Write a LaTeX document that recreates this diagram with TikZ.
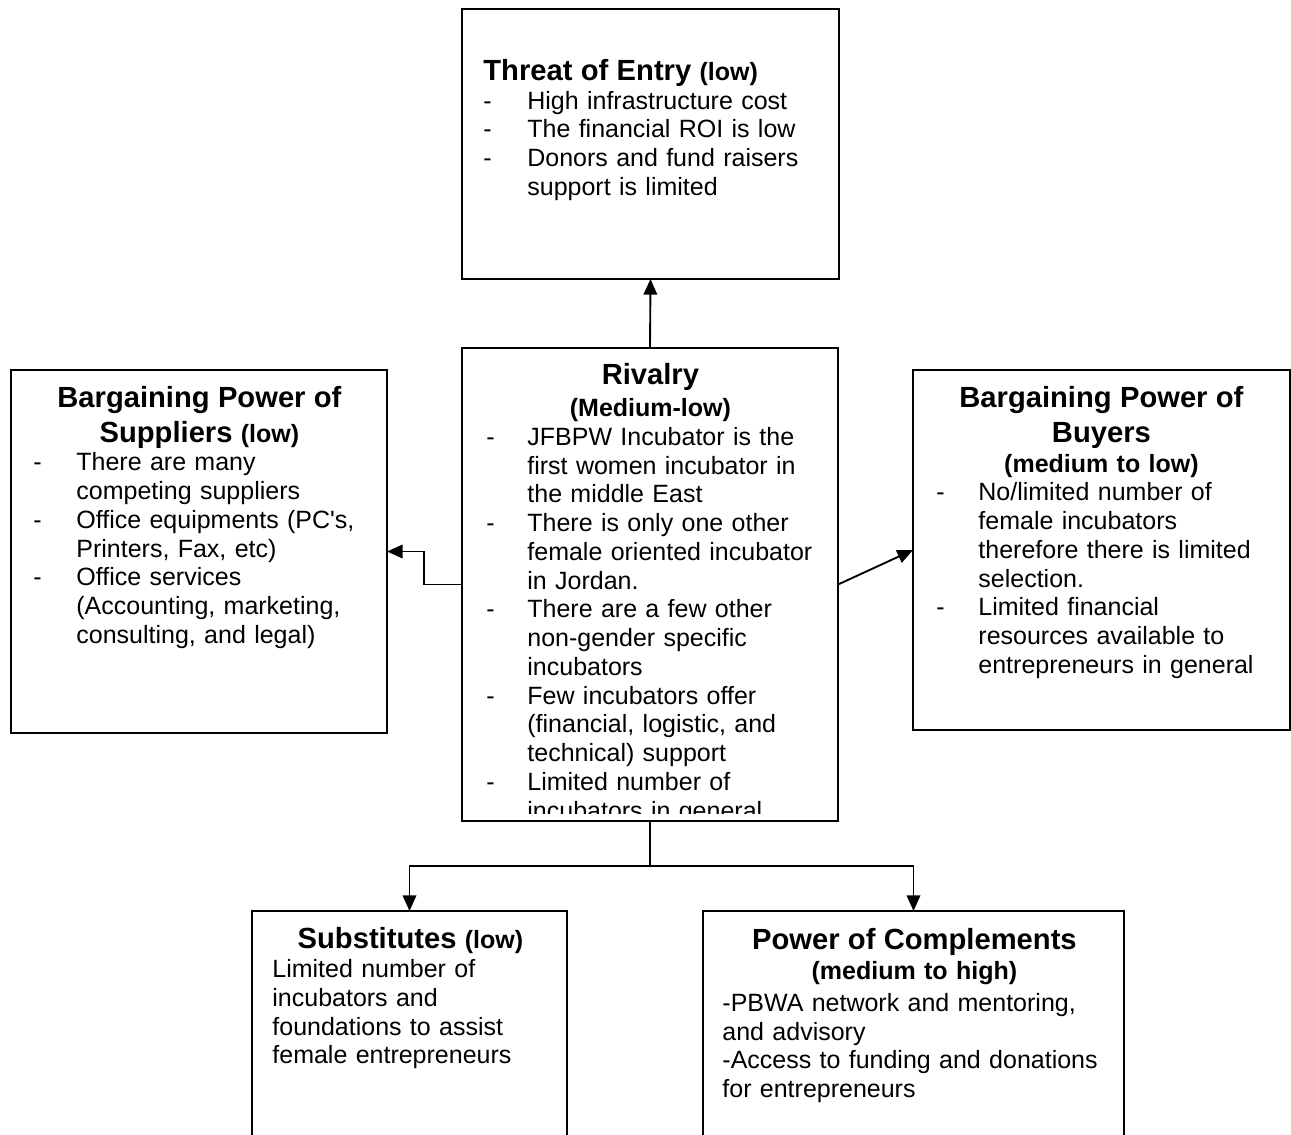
\documentclass[tikz,border=0pt]{standalone}
\usepackage{fontspec}
\setmainfont{Liberation Sans}
\usetikzlibrary{arrows.meta}
\setlength{\parindent}{0pt}
\setlength{\parskip}{0pt}
\newcommand{\hd}{\fontsize{14}{16.8}\selectfont\bfseries}
\newcommand{\sbf}{\fontsize{12}{14.4}\selectfont\bfseries}
\newcommand{\bd}{\fontsize{12}{13.8}\selectfont}
\newcommand{\topline}{\rule{0pt}{11pt}}
\newlength{\dashind}
\newcommand{\dashitem}[1]{\par\hangindent=\dashind\hangafter=1\noindent\makebox[\dashind][l]{-}#1}

\begin{document}
\begin{tikzpicture}[x=0.48pt, y=-0.48pt,
  box/.style={draw, line width=0.9pt, inner sep=0pt, outer sep=0pt, anchor=north west},
  txt/.style={inner sep=0pt, anchor=north west, font=\bd},
  conn/.style={line width=0.9pt, -{Triangle[length=7.5pt, width=6.5pt]}}]
\useasboundingbox (0, 0) rectangle (1291, 1135);
\clip (0, 0) rectangle (1291, 1135);
% the boxes
\node[box, minimum width=180.96pt, minimum height=129.6pt] (entry) at (462, 9) {};
\node[box, minimum width=180.48pt, minimum height=227.04pt] (rivalry) at (462, 348) {};
\node[box, minimum width=180.48pt, minimum height=174.24pt] (suppliers) at (11, 370) {};
\node[box, minimum width=180.96pt, minimum height=172.8pt] (buyers) at (913, 370) {};
\node[box, minimum width=151.2pt, minimum height=144pt] (subst) at (252, 911) {};
\node[box, minimum width=202.08pt, minimum height=144pt] (compl) at (703, 911) {};
% threat of entry
\node[txt, text width=163.2pt] (entrytext) at (483, 57.1) {\setlength{\dashind}{21.1pt}%
  \raggedright{\hd\topline Threat of Entry {\sbf (low)}\par}
  \dashitem{High infrastructure cost}
  \dashitem{The financial ROI is low}
  \dashitem{Donors and fund raisers\newline support is limited}\par};
% rivalry
\begin{scope}
\clip (462, 348) rectangle (838, 813);
\node[txt, text width=157.44pt] (rivalrytext) at (486, 361.1) {\setlength{\dashind}{19.68pt}%
  {\centering\hd\topline Rivalry\par}
  \vspace{1pt}
  {\centering\sbf (Medium-low)\par}
  \raggedright
  \dashitem{JFBPW Incubator is the\newline first women incubator in\newline the middle East}
  \dashitem{There is only one other\newline female oriented incubator\newline in Jordan.}
  \dashitem{There are a few other\newline non-gender specific\newline incubators}
  \dashitem{Few incubators offer\newline (financial, logistic, and\newline technical) support}
  \dashitem{Limited number of\newline incubators in general}\par};
\end{scope}
% suppliers
\node[txt, text width=159.36pt] (supplierstext) at (33, 383.8) {\setlength{\dashind}{20.64pt}%
  {\centering\hd\topline Bargaining Power of\\Suppliers {\sbf (low)}\par}
  \raggedright
  \dashitem{There are many\newline competing suppliers}
  \dashitem{Office equipments (PC\textquotesingle s,\newline Printers, Fax, etc)}
  \dashitem{Office services\newline (Accounting, marketing,\newline consulting, and legal)}\par};
% buyers
\node[txt, text width=158.4pt] (buyerstext) at (936, 383.8) {\setlength{\dashind}{20.16pt}%
  {\centering\hd\topline Bargaining Power of\\Buyers\par}
  {\centering\sbf (medium to low)\par}
  \raggedright
  \dashitem{No/limited number of\newline female incubators\newline therefore there is limited\newline selection.}
  \dashitem{Limited financial\newline resources available to\newline entrepreneurs in general}\par};
% substitutes
\node[txt, text width=132.48pt] (substtext) at (272, 925.6) {%
  {\centering\hd\topline Substitutes {\sbf (low)}\par}
  \raggedright
  Limited number of\newline incubators and\newline foundations to assist\newline female entrepreneurs\par};
% complements
\node[txt, text width=184.32pt] (compltext) at (722, 926.1) {%
  {\centering\hd\topline Power of Complements\par}
  {\centering\sbf (medium to high)\par}
  \vspace{1.5pt}
  \raggedright
  -PBWA network and mentoring,\newline and advisory\newline
  -Access to funding and donations\newline for entrepreneurs\par};
% connectors
\draw[conn] (rivalry.north) -- (entry.south);
\draw[conn] (rivalry.west) -- ++(-38, 0) |- (suppliers.east);
\draw[conn] (rivalry.east) -- (buyers.west);
\draw[conn] (rivalry.south) -- ++(0, 45) -| (subst.north);
\draw[conn] (rivalry.south) -- ++(0, 45) -| (compl.north);
\end{tikzpicture}
\end{document}
